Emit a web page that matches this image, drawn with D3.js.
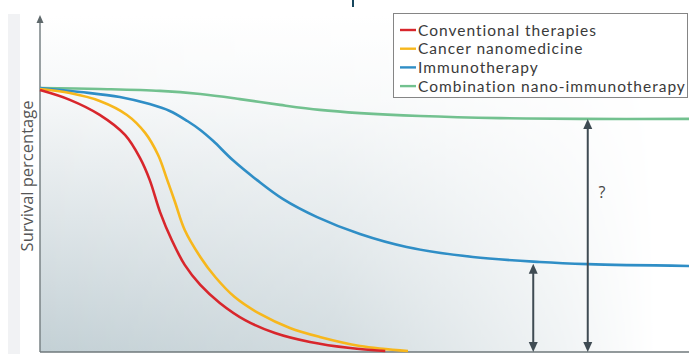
<!DOCTYPE html>
<html><head><meta charset="utf-8">
<script src="https://cdn.jsdelivr.net/npm/d3@7"></script>
<style>html,body{margin:0;padding:0;background:#fff;}svg{display:block;}</style>
</head><body>
<svg id="chart" width="689" height="354"></svg>
<script>
// Data (time in arbitrary units 0-100, survival in %)
const seriesNames = ["Conventional therapies","Cancer nanomedicine","Immunotherapy","Combination nano-immunotherapy"];
const seriesColors = ["#d8262c","#f7b71c","#2f8ec6","#72c18f"];
const conventional = [[0,99.2],[4.6,95.5],[9.2,89.8],[13.1,82.2],[15.4,73.5],[16.9,65.2],[18.5,53.0],[20.3,42.4],[22.3,33.0],[24.7,25.4],[27.7,18.6],[31.6,12.1],[36.2,7.2],[41.6,3.8],[47.8,1.5],[53.2,0.4]];
const nanomedicine = [[0,99.6],[4.6,98.1],[9.2,95.1],[13.4,89.8],[16.2,83.0],[18.2,74.6],[19.6,65.2],[20.8,56.8],[22.3,46.2],[24.7,36.0],[27.0,28.4],[30.0,20.8],[33.9,14.4],[38.5,9.1],[43.1,5.7],[49.3,2.3],[56.7,0.4]];
const immunotherapy = [[0,100],[6.2,98.5],[12.3,96.6],[16.9,93.9],[20.0,91.3],[22.7,87.5],[24.7,84.1],[26.7,79.9],[29.7,72.7],[33.4,65.2],[37.4,58.0],[42.7,51.1],[49.3,44.7],[56.5,39.8],[66.7,36.0],[77.0,34.1],[84.4,33.3],[100,32.6]];
const combination = [[0,100],[9.2,99.6],[18.5,98.9],[24.7,97.7],[30.8,95.8],[37,93.6],[43.1,91.7],[49.3,90.5],[58.6,89.4],[70.9,88.6],[83.2,88.3],[100,88.3]];
const yLabel = "Survival percentage";
const arrowsData = [{x:76, y0:0, y1:33.4},{x:84.4, y0:0, y1:88.3}];
const questionMark = {x:86.6, y:60.6, text:"?"};

const svg = d3.select("#chart");
const x = d3.scaleLinear().domain([0,100]).range([40,689]);
const y = d3.scaleLinear().domain([0,100]).range([352,88]);

const defs = svg.append("defs");
const vg = defs.append("linearGradient").attr("id","vg").attr("x1",0).attr("y1",0).attr("x2",0).attr("y2",1);
[[0,"#ffffff"],[0.25,"#f5f7f8"],[0.6,"#dee5e8"],[1,"#c3d0d5"]].forEach(s=>vg.append("stop").attr("offset",s[0]).attr("stop-color",s[1]));
const hg = defs.append("linearGradient").attr("id","hg").attr("x1",0).attr("y1",0).attr("x2",1).attr("y2",0);
[[0,1],[0.45,0.75],[0.8,0.25],[0.95,0]].forEach(s=>hg.append("stop").attr("offset",s[0]).attr("stop-color","#fff").attr("stop-opacity",s[1]));
const mask = defs.append("mask").attr("id","hm");
mask.append("rect").attr("x",40).attr("y",16).attr("width",649).attr("height",336).attr("fill","url(#hg)");

// left strip & top mark (decor)
svg.append("rect").attr("x",8).attr("y",14).attr("width",12).attr("height",340).attr("fill","#f1f2f4");
svg.append("rect").attr("x",352).attr("y",0).attr("width",2).attr("height",7).attr("fill","#17475d");

// background gradient
svg.append("rect").attr("x",40).attr("y",16).attr("width",649).attr("height",336)
  .attr("fill","url(#vg)").attr("mask","url(#hm)");

// axes
const axisColor = "#788285";
svg.append("line").attr("x1",x(0)).attr("x2",x(0)).attr("y1",352).attr("y2",22)
  .attr("stroke",axisColor).attr("stroke-width",1.5);
svg.append("path").attr("d",`M${x(0)-3.5},${23} L${x(0)},${15} L${x(0)+3.5},${23} Z`).attr("fill","#5e686b");
svg.append("line").attr("x1",x(0)).attr("x2",689).attr("y1",y(0)).attr("y2",y(0))
  .attr("stroke","#6f787b").attr("stroke-width",1.5);

// y label
svg.append("text").attr("transform",`translate(33,176) rotate(-90)`).attr("text-anchor","middle")
  .attr("font-family","Open Sans, sans-serif").attr("font-size",16.5).attr("fill","#555")
  .text(yLabel);

// curves
const line = d3.line().x(d=>x(d[0])).y(d=>y(d[1])).curve(d3.curveCatmullRom.alpha(0.5));
const series = [combination, immunotherapy, nanomedicine, conventional];
const sColors = [seriesColors[3], seriesColors[2], seriesColors[1], seriesColors[0]];
svg.selectAll("path.curve").data(series).join("path").attr("class","curve")
  .attr("d",line).attr("fill","none").attr("stroke",(d,i)=>sColors[i]).attr("stroke-width",2.6)
  .attr("stroke-linecap","butt");

// arrows
const ac = "#3f4b53";
arrowsData.forEach(a=>{
  const xp = x(a.x), yb = y(a.y0), yt = y(a.y1);
  svg.append("line").attr("x1",xp).attr("x2",xp).attr("y1",yt+8).attr("y2",yb-8).attr("stroke",ac).attr("stroke-width",2);
  svg.append("path").attr("d",`M${xp-4.5},${yt+10} L${xp},${yt} L${xp+4.5},${yt+10} Z`).attr("fill",ac);
  svg.append("path").attr("d",`M${xp-4.5},${yb-10} L${xp},${yb} L${xp+4.5},${yb-10} Z`).attr("fill",ac);
});
svg.append("text").attr("x",x(questionMark.x)).attr("y",y(questionMark.y)).attr("dy","0.35em")
  .attr("text-anchor","middle").attr("font-family","Open Sans, sans-serif").attr("font-size",16).attr("fill","#444")
  .text(questionMark.text);

// legend
const lg = svg.append("g");
lg.append("rect").attr("x",393.5).attr("y",13.5).attr("width",294).attr("height",84)
  .attr("fill","#fff").attr("stroke","#858585").attr("stroke-width",1);
const texts = [];
seriesNames.forEach((n,i)=>{
  const yy = 30 + i*18.7;
  lg.append("line").attr("x1",400).attr("x2",416).attr("y1",yy).attr("y2",yy).attr("stroke",seriesColors[i]).attr("stroke-width",2.4);
  texts.push(lg.append("text").attr("x",418).attr("y",yy+5.5).attr("font-family","Lato, sans-serif").attr("font-size",15.5)
    .attr("fill","#3a3a3a").text(n));
});
// stretch letter spacing so the longest entry spans like the reference
const longest = texts[3].node().getComputedTextLength();
const ls = Math.max(0, (267 - longest) / (seriesNames[3].length - 1));
texts.forEach(t=>t.attr("letter-spacing", ls.toFixed(2)));
</script>
</body></html>
